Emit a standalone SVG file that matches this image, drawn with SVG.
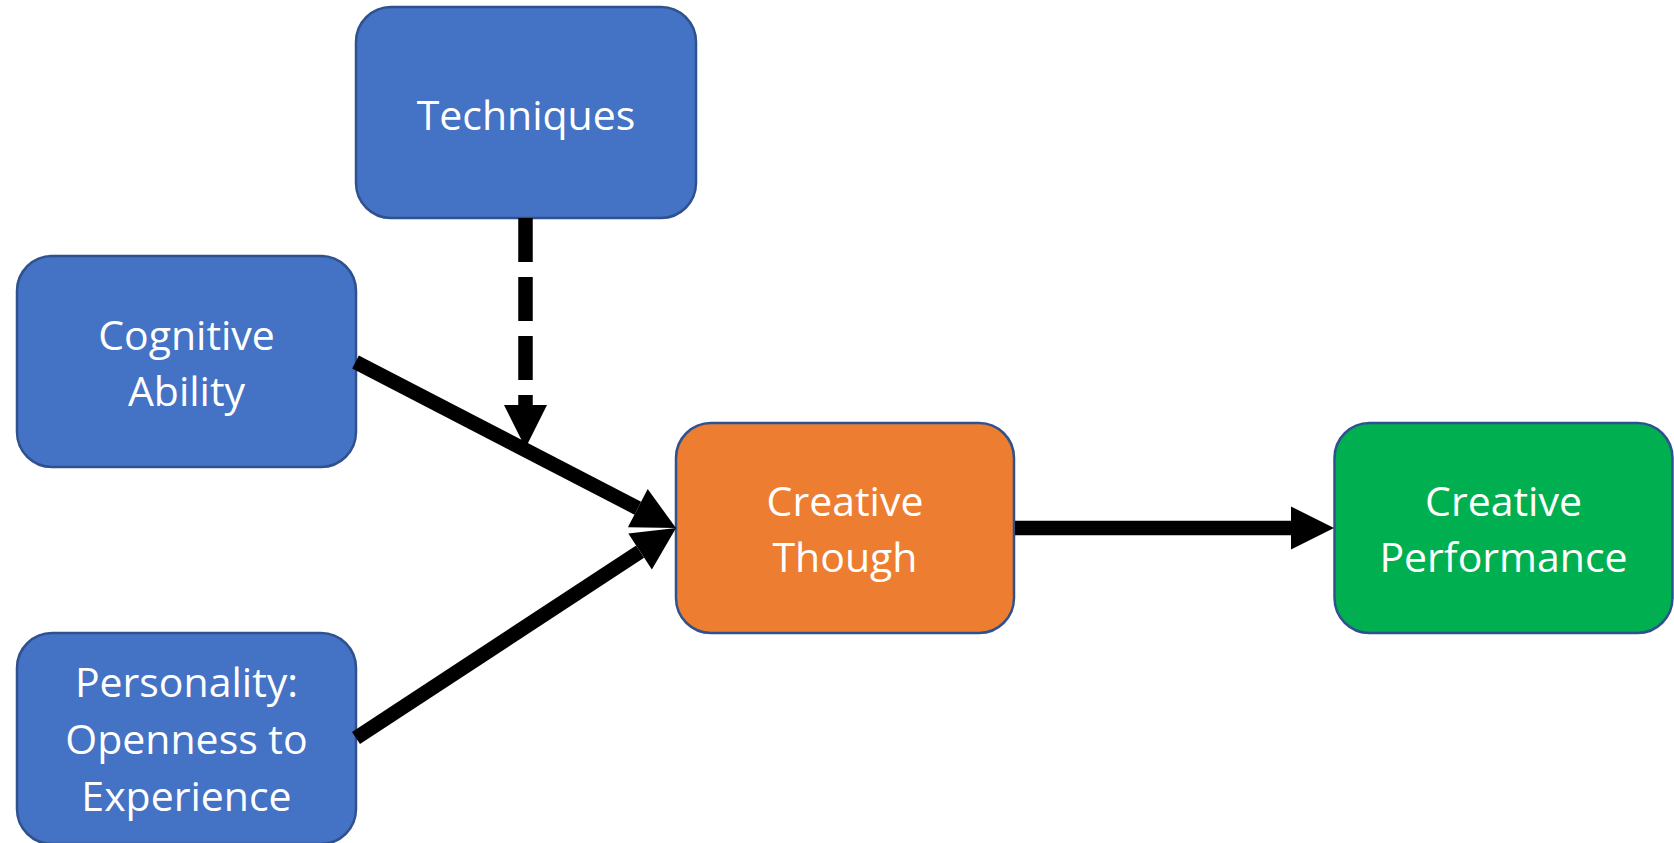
<svg xmlns="http://www.w3.org/2000/svg" width="1674" height="843" viewBox="0 0 1674 843">
  <style>
    .box { stroke: #2F528F; stroke-width: 2.5; }
    .blue { fill: #4472C4; }
    .orange { fill: #ED7D31; }
    .green { fill: #00B050; }
    .label { fill: #FFFFFF; font-family: "Open Sans", "Noto Sans", "Liberation Sans", sans-serif; font-size: 41px; text-anchor: middle; }
    .conn { stroke: #000000; stroke-width: 14.5; fill: none; marker-end: url(#head); }
    .dashed { stroke-dasharray: 44 15; }
  </style>
  <defs>
    <marker id="head" markerUnits="userSpaceOnUse" markerWidth="43" markerHeight="43" refX="0" refY="21.5" orient="auto" overflow="visible">
      <path d="M0,0 L43,21.5 L0,43 Z" fill="#000000"/>
    </marker>
  </defs>
  <rect width="1674" height="843" fill="#FFFFFF"/>

  <g id="techniques">
    <rect class="box blue" x="356" y="7" width="340" height="211" rx="35" ry="35"/>
    <text class="label" x="526" y="130">Techniques</text>
  </g>
  <g id="cognitive-ability">
    <rect class="box blue" x="17" y="256" width="339" height="211" rx="35" ry="35"/>
    <text class="label" x="186.5" y="350">Cognitive</text>
    <text class="label" x="186.5" y="406">Ability</text>
  </g>
  <g id="personality">
    <rect class="box blue" x="17" y="633" width="339" height="211" rx="35" ry="35"/>
    <text class="label" x="186.5" y="697">Personality:</text>
    <text class="label" x="186.5" y="754">Openness to</text>
    <text class="label" x="186.5" y="811">Experience</text>
  </g>
  <g id="creative-though">
    <rect class="box orange" x="676" y="423" width="338" height="210" rx="35" ry="35"/>
    <text class="label" x="845" y="516">Creative</text>
    <text class="label" x="845" y="572">Though</text>
  </g>
  <g id="creative-performance">
    <rect class="box green" x="1334.5" y="423" width="338" height="210" rx="35" ry="35"/>
    <text class="label" x="1503.5" y="516">Creative</text>
    <text class="label" x="1503.5" y="572">Performance</text>
  </g>

  <g id="connectors">
    <line class="conn dashed" x1="525.5" y1="218" x2="525.5" y2="405"/>
    <line class="conn" x1="355.5" y1="362" x2="637.8" y2="508.2"/>
    <line class="conn" x1="356" y1="738" x2="640.1" y2="551.6"/>
    <line class="conn" x1="1015" y1="528" x2="1291" y2="528"/>
  </g>
</svg>
